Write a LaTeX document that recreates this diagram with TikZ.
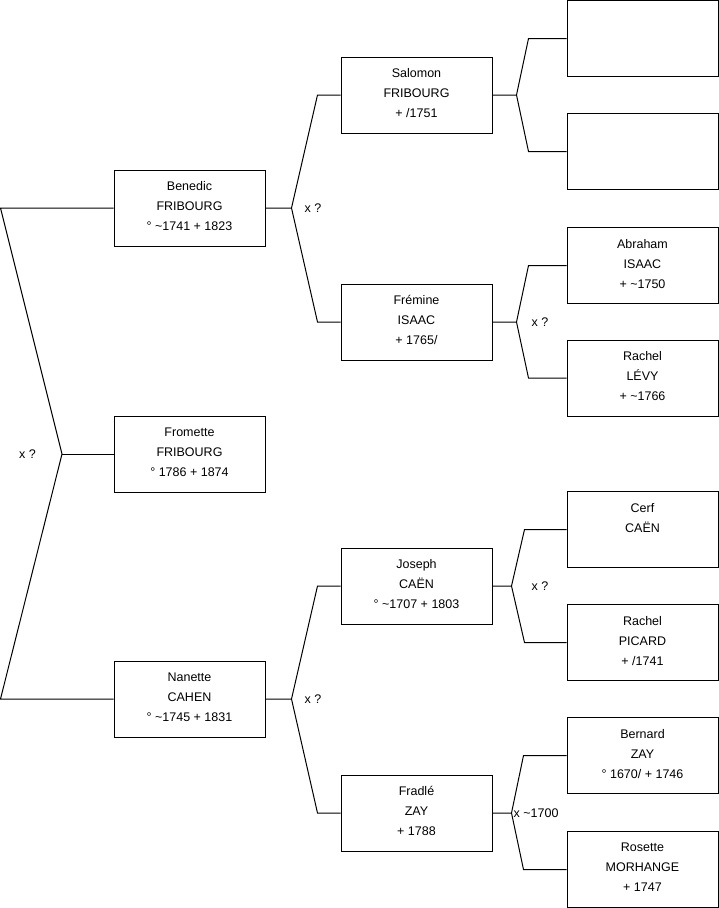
\documentclass[tikz,border=0pt]{standalone}
\usepackage{fontspec}
\setmainfont{Liberation Sans}
\usetikzlibrary{positioning}

\newcommand{\tld}{\textasciitilde}

\tikzset{
  personne/.style={draw, line width=1pt, minimum width=151pt, minimum height=76pt,
    inner sep=0pt, text depth=4pt, align=center, font=\fontsize{12.5}{20}\selectfont},
  lien/.style={line width=1pt},
  union/.style={inner sep=0pt, font=\fontsize{12.5}{14}\selectfont}
}

\begin{document}
\begin{tikzpicture}[x=1pt, y=-1pt]
  \useasboundingbox (0,0) rectangle (719,908);
  % enfant
  \node[personne] (fromette) at (189.5,454) {Fromette\\FRIBOURG\\° 1786 + 1874};
  % parents
  \node[personne] (benedic) at (189.5,208) {Benedic\\FRIBOURG\\° \tld 1741 + 1823};
  \node[personne] (nanette) at (189.5,699) {Nanette\\CAHEN\\° \tld 1745 + 1831};
  % grands-parents
  \node[personne] (salomon) at (416.5,95) {Salomon\\FRIBOURG\\+ /1751};
  \node[personne] (fremine) at (416.5,322) {Frémine\\ISAAC\\+ 1765/};
  \node[personne] (joseph) at (416.5,586) {Joseph\\CAËN\\° \tld 1707 + 1803};
  \node[personne] (fradle) at (416.5,813) {Fradlé\\ZAY\\+ 1788};
  % arriere-grands-parents
  \node[personne] (vide1) at (642.5,38.5) {};
  \node[personne] (vide2) at (642.5,151.5) {};
  \node[personne] (abraham) at (642.5,265.5) {Abraham\\ISAAC\\+ \tld 1750};
  \node[personne] (rachelL) at (642.5,378) {Rachel\\LÉVY\\+ \tld 1766};
  \node[personne] (cerf) at (642.5,529.5) {Cerf\\CAËN\\\mbox{}};
  \node[personne] (rachelP) at (642.5,642.5) {Rachel\\PICARD\\+ /1741};
  \node[personne] (bernard) at (642.5,755.5) {Bernard\\ZAY\\° 1670/ + 1746};
  \node[personne] (rosette) at (642.5,869.5) {Rosette\\MORHANGE\\+ 1747};

  % union Benedic x Nanette
  \coordinate (gB) at (benedic.west -| 0.5,0);
  \coordinate (gN) at (nanette.west -| 0.5,0);
  \coordinate (uP) at (62,454);
  \draw[lien] (benedic.west) -- (gB) -- (uP) -- (gN) -- (nanette.west);
  \draw[lien] (uP) -- (fromette.west);
  \node[union, left=26pt of uP] (xP) {x ?};

  % union Salomon x Fremine
  \coordinate[right=26pt of benedic] (uB);
  \draw[lien] (benedic.east) -- (uB) -- ([xshift=-23pt]salomon.west) -- (salomon.west);
  \draw[lien] (uB) -- ([xshift=-23pt]fremine.west) -- (fremine.west);
  \node[union, right=13pt of uB] (xB) {x ?};

  % union Joseph x Fradle
  \coordinate[right=26pt of nanette] (uN);
  \draw[lien] (nanette.east) -- (uN) -- ([xshift=-23pt]joseph.west) -- (joseph.west);
  \draw[lien] (uN) -- ([xshift=-23pt]fradle.west) -- (fradle.west);
  \node[union, right=13pt of uN] (xN) {x ?};

  % parents de Salomon
  \coordinate[right=24pt of salomon] (uS);
  \draw[lien] (salomon.east) -- (uS) -- ([xshift=-38pt]vide1.west) -- (vide1.west);
  \draw[lien] (uS) -- ([xshift=-38pt]vide2.west) -- (vide2.west);

  % parents de Fremine
  \coordinate[right=24pt of fremine] (uF);
  \draw[lien] (fremine.east) -- (uF) -- ([xshift=-38pt]abraham.west) -- (abraham.west);
  \draw[lien] (uF) -- ([xshift=-38pt]rachelL.west) -- (rachelL.west);
  \node[union, right=15pt of uF] (xF) {x ?};

  % parents de Joseph
  \coordinate[right=19pt of joseph] (uJ);
  \draw[lien] (joseph.east) -- (uJ) -- ([xshift=-42pt]cerf.west) -- (cerf.west);
  \draw[lien] (uJ) -- ([xshift=-42pt]rachelP.west) -- (rachelP.west);
  \node[union, right=20pt of uJ] (xJ) {x ?};

  % parents de Fradle
  \coordinate[right=19pt of fradle] (uD);
  \draw[lien] (fradle.east) -- (uD) -- ([xshift=-43pt]bernard.west) -- (bernard.west);
  \draw[lien] (uD) -- ([xshift=-43pt]rosette.west) -- (rosette.west);
  \node[union, right=2pt of uD] (xD) {x \tld 1700};
\end{tikzpicture}
\end{document}
